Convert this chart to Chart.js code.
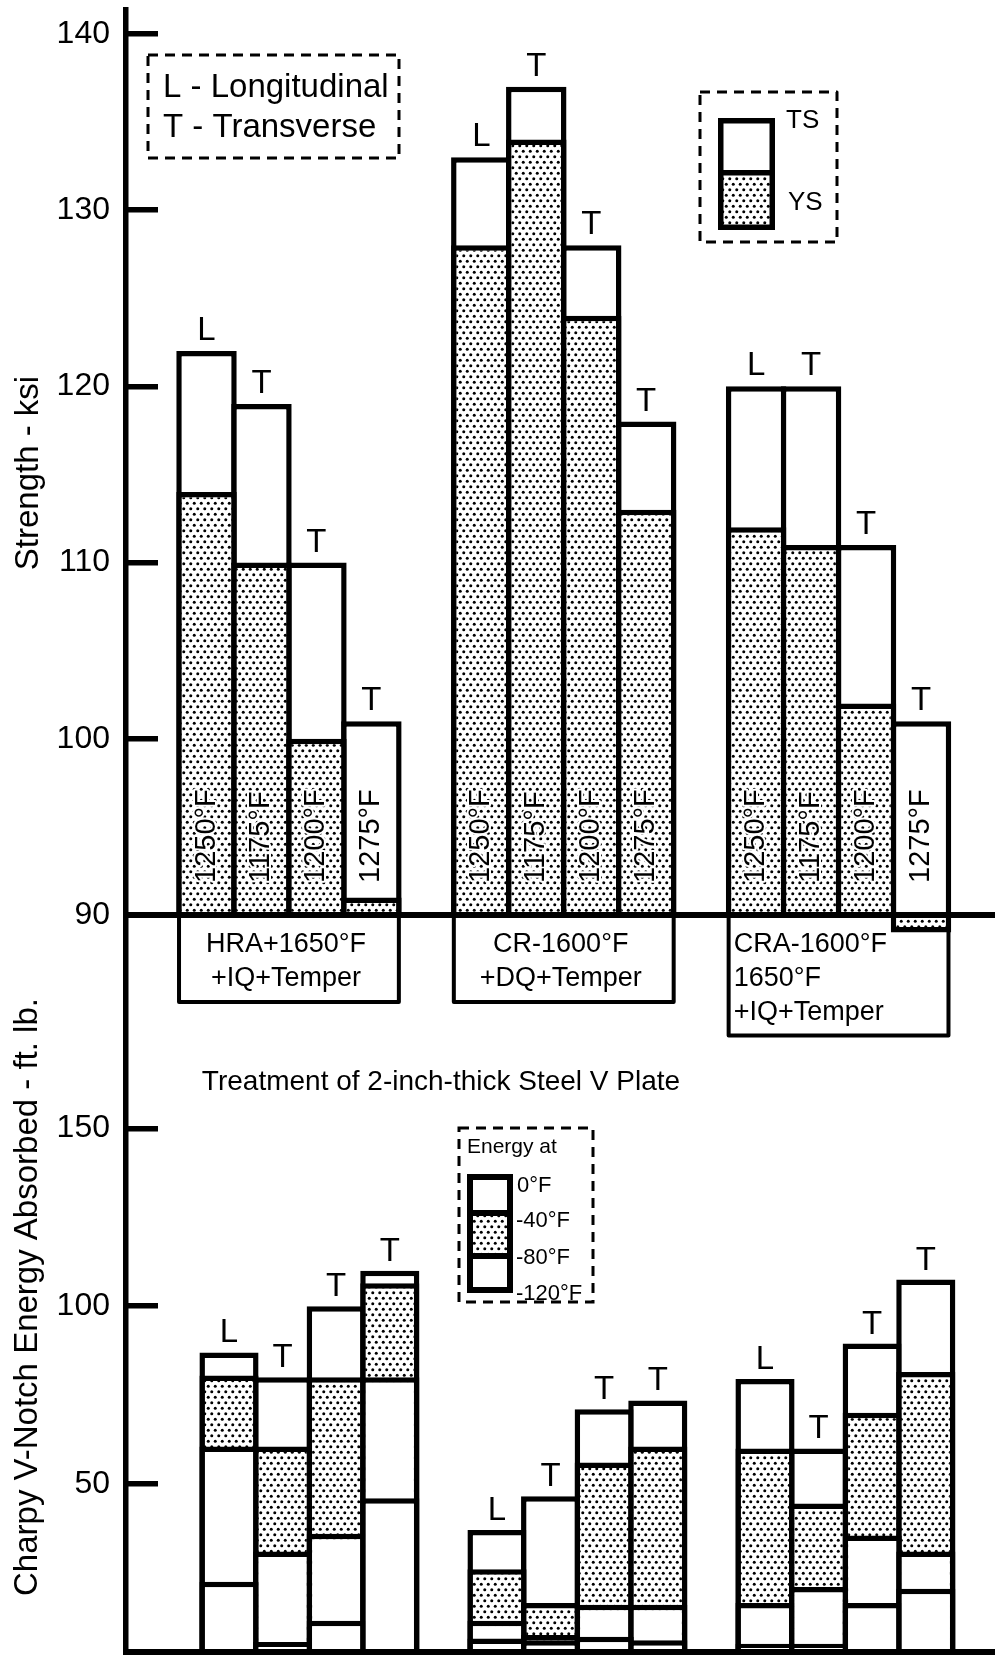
<!DOCTYPE html>
<html>
<head>
<meta charset="utf-8">
<title>Steel V Plate - strength and Charpy energy</title>
<script src="https://cdn.jsdelivr.net/npm/chart.js@4.4.1/dist/chart.umd.min.js"></script>
<style>
  html, body { margin: 0; padding: 0; background: #fff; overflow: hidden; }
  #wrap { position: relative; width: 995px; height: 1655px; }
  #strength { position: absolute; left: 0; top: 0; }
  #charpy { position: absolute; left: 0; top: 905px; }
</style>
</head>
<body>
<div id="wrap">
  <canvas id="strength" width="995" height="1110"></canvas>
  <canvas id="charpy" width="995" height="750"></canvas>
</div>
<script>
// heat treatments, each tempered at four temperatures
const treatments = [
    ["HRA+1650°F", "+IQ+Temper"],
    ["CR-1600°F", "+DQ+Temper"],
    ["CRA-1600°F", "1650°F", "+IQ+Temper"]
];
const temperTemps = ["1250°F", "1175°F", "1200°F", "1275°F"];
const orientation = ["L", "T", "T", "T"];

// strength - ksi, one value per bar, treatment by treatment
const tensile = [122, 119, 110, 101, 133, 137, 128, 118, 120, 120, 111, 101];
const yieldStr = [114, 110, 100, 91, 128, 134, 124, 113, 112, 111, 102, 89];

// Charpy V-notch energy - ft. lb. at each test temperature
const energy0 = [87, 80, 100, 110, 37, 46.5, 71, 73.5, 79.5, 60, 89.5, 107.5];
const energy40 = [80.5, 60.5, 80, 106.5, 26, 16.5, 56, 60.5, 60, 44.5, 70, 81.5];
const energy80 = [60.5, 31, 36, 80, 11.5, 7.5, 16, 16, 16.5, 21, 35.5, 31];
const energy120 = [22.5, 5.5, 11.5, 46, 6.5, 6, 7, 6, 5, 5, 16.5, 20.5];

const strengthTicks = [90, 100, 110, 120, 130, 140];
const energyTicks = [50, 100, 150];

const STRENGTH_BASE = 90;
const ENERGY_BASE = 2.7;

const FONT = "'Liberation Sans', Arial, Helvetica, sans-serif";
Chart.defaults.font.family = FONT;
Chart.defaults.color = "#000";

function font(size) {
    return size + "px " + FONT;
}

// bars sit in groups of four with one empty slot between treatments
function toPoints(values) {
    return values.map((v, k) => ({ x: Math.floor(k / 4) * 5 + k % 4, y: v }));
}

// stipple fill used for yield strength and the -40/-80 band
function makeDots(ctx) {
    const tile = document.createElement("canvas");
    tile.width = 7;
    tile.height = 11;
    const g = tile.getContext("2d");
    g.fillStyle = "#fff";
    g.fillRect(0, 0, 7, 11);
    g.fillStyle = "#000";
    [[1.75, 2.75], [5.25, 8.25]].forEach(([x, y]) => {
        g.beginPath();
        g.arc(x, y, 1.5, 0, Math.PI * 2);
        g.fill();
    });
    return ctx.createPattern(tile, "repeat");
}

function dashedBox(ctx, x, y, w, h) {
    ctx.save();
    ctx.setLineDash([10, 7]);
    ctx.lineWidth = 3;
    ctx.strokeStyle = "#000";
    ctx.strokeRect(x, y, w, h);
    ctx.restore();
}

function barLabels(ctx, bars, gap) {
    ctx.font = font(33);
    ctx.textAlign = "center";
    ctx.textBaseline = "alphabetic";
    ctx.fillStyle = "#000";
    bars.forEach((bar, k) => ctx.fillText(orientation[k % 4], bar.x, bar.y - gap));
}

function verticalTitle(ctx, text, x, y) {
    ctx.save();
    ctx.translate(x, y);
    ctx.rotate(-Math.PI / 2);
    ctx.font = font(33);
    ctx.textAlign = "center";
    ctx.textBaseline = "alphabetic";
    ctx.fillStyle = "#000";
    ctx.fillText(text, 0, 0);
    ctx.restore();
}

function valueAxis(min, max, ticks) {
    return {
        min: min,
        max: max,
        afterBuildTicks: (axis) => { axis.ticks = ticks.map(v => ({ value: v })); },
        afterFit: (axis) => {
            axis.width = 126;
            axis.paddingTop = 0;      // labels may hang over the ends
            axis.paddingBottom = 0;
        },
        ticks: { color: "#000", font: { size: 32 }, padding: 48 },
        grid: {
            display: true,
            drawOnChartArea: false,
            drawTicks: true,
            tickLength: -32,      // tick marks point into the plot
            lineWidth: 5.5,
            color: "#000"
        },
        border: { display: true, color: "#000", width: 5.5, z: 1 }
    };
}

// horizontal axis: one unit per bar slot, no ticks so bar width comes from the slot spacing
function slotAxis(min, max) {
    return {
        type: "linear",
        bounds: "data",
        min: min,
        max: max,
        afterBuildTicks: (axis) => { axis.ticks = []; },
        ticks: { display: false },
        grid: { display: false, drawTicks: false },
        border: { display: true, color: "#000", width: 6, z: 1 }
    };
}

const barDefaults = {
    grouped: false,
    categoryPercentage: 1,
    borderColor: "#000",
    borderWidth: 5.5,
    borderSkipped: "start"
};

//// Strength chart
const strengthCtx = document.getElementById("strength").getContext("2d");
const dots = makeDots(strengthCtx);

const strengthDecor = {
    id: "strengthDecor",
    afterDraw(chart) {
        const ctx = chart.ctx;
        const area = chart.chartArea;
        const xs = chart.scales.x;
        const tsBars = chart.getDatasetMeta(1).data;
        ctx.save();

        barLabels(ctx, tsBars, 11);

        // tempering temperature written up each bar
        ctx.font = font(29);
        ctx.textAlign = "left";
        ctx.textBaseline = "middle";
        ctx.lineJoin = "round";
        ctx.strokeStyle = "#fff";
        ctx.lineWidth = 4;
        tsBars.forEach((bar, k) => {
            ctx.save();
            ctx.translate(bar.x, area.bottom - 32);
            ctx.rotate(-Math.PI / 2);
            ctx.strokeText(temperTemps[k % 4], 0, 0);
            ctx.fillText(temperTemps[k % 4], 0, 0);
            ctx.restore();
        });

        // treatment boxes under the 90 ksi line
        ctx.lineWidth = 4;
        ctx.strokeStyle = "#000";
        ctx.font = font(27);
        ctx.textBaseline = "alphabetic";
        treatments.forEach((lines, g) => {
            const left = xs.getPixelForValue(g * 5 - 0.5);
            const right = xs.getPixelForValue(g * 5 + 3.5);
            const bottom = area.bottom + 20 + 33.5 * lines.length;
            ctx.strokeRect(left, area.bottom, right - left, bottom - area.bottom);
            lines.forEach((line, j) => {
                const y = area.bottom + 37 + 34 * j;
                if (lines.length > 2) {
                    ctx.textAlign = "left";
                    ctx.fillText(line, left + 5, y);
                } else {
                    ctx.textAlign = "center";
                    ctx.fillText(line, (left + right) / 2 - 3, y);
                }
            });
        });

        // orientation key
        dashedBox(ctx, 148, 55, 251, 103);
        ctx.font = font(33);
        ctx.textAlign = "left";
        ctx.fillText("L - Longitudinal", 163, 97);
        ctx.fillText("T - Transverse", 163, 137);

        // TS / YS key
        dashedBox(ctx, 700, 92, 137, 150);
        ctx.fillStyle = "#000";
        ctx.fillRect(718, 118, 57, 112);
        ctx.fillStyle = "#fff";
        ctx.fillRect(723.5, 123.5, 46, 46.5);
        ctx.fillStyle = dots;
        ctx.fillRect(723.5, 175.5, 46, 49);
        ctx.fillStyle = "#000";
        ctx.font = font(26);
        ctx.fillText("TS", 786, 128);
        ctx.fillText("YS", 788, 210);

        ctx.textAlign = "center";
        ctx.font = font(28);
        ctx.fillText("Treatment of 2-inch-thick Steel V Plate", 441, 1090);
        ctx.restore();

        verticalTitle(ctx, "Strength - ksi", 38, 473);
    }
};

new Chart(strengthCtx, {
    type: "bar",
    data: {
        datasets: [
            { label: "YS", order: 0, data: toPoints(yieldStr), backgroundColor: dots, clip: false },
            { label: "TS", order: 1, data: toPoints(tensile), backgroundColor: "#fff" }
        ]
    },
    options: {
        responsive: false,
        animation: false,
        layout: { padding: { top: 10, bottom: 195, left: 0, right: 0 }, autoPadding: false },
        datasets: { bar: Object.assign({ base: STRENGTH_BASE, barPercentage: 1.1 }, barDefaults) },
        plugins: { legend: { display: false }, tooltip: { enabled: false } },
        scales: {
            x: slotAxis(-1.4647, 14.3464),
            y: valueAxis(STRENGTH_BASE, 141.35, strengthTicks)
        }
    },
    plugins: [strengthDecor]
});

//// Charpy energy chart
const charpyCtx = document.getElementById("charpy").getContext("2d");

const charpyDecor = {
    id: "charpyDecor",
    afterDraw(chart) {
        const ctx = chart.ctx;
        ctx.save();
        barLabels(ctx, chart.getDatasetMeta(3).data, 10);

        // test temperature key
        dashedBox(ctx, 459, 223, 134, 174);
        ctx.fillStyle = "#000";
        ctx.font = font(21);
        ctx.textAlign = "left";
        ctx.fillText("Energy at", 467, 248);
        ctx.fillRect(467, 269, 46, 119);
        ctx.fillStyle = "#fff";
        ctx.fillRect(473, 275, 34, 30);
        ctx.fillRect(473, 354, 34, 28);
        ctx.fillStyle = dots;
        ctx.fillRect(473, 311, 34, 37);
        ctx.fillStyle = "#000";
        ctx.font = font(22);
        ctx.fillText("0°F", 517, 287);
        ctx.fillText("-40°F", 516, 322);
        ctx.fillText("-80°F", 516, 359);
        ctx.fillText("-120°F", 516, 395);
        ctx.restore();

        verticalTitle(ctx, "Charpy V-Notch Energy Absorbed - ft. lb.", 37, 392);
    }
};

new Chart(charpyCtx, {
    type: "bar",
    data: {
        datasets: [
            { label: "-120°F", order: 0, data: toPoints(energy120), backgroundColor: "#fff" },
            { label: "-80°F", order: 1, data: toPoints(energy80), backgroundColor: "#fff" },
            { label: "-40°F", order: 2, data: toPoints(energy40), backgroundColor: dots },
            { label: "0°F", order: 3, data: toPoints(energy0), backgroundColor: "#fff" }
        ]
    },
    options: {
        responsive: false,
        animation: false,
        layout: { padding: { top: 10, bottom: 3, left: 0, right: 0 }, autoPadding: false },
        datasets: { bar: Object.assign({ base: ENERGY_BASE, barPercentage: 1.103 }, barDefaults) },
        plugins: { legend: { display: false }, tooltip: { enabled: false } },
        scales: {
            x: slotAxis(-1.9216, 14.291),
            y: valueAxis(ENERGY_BASE, 210.1, energyTicks)
        }
    },
    plugins: [charpyDecor]
});
</script>
</body>
</html>
